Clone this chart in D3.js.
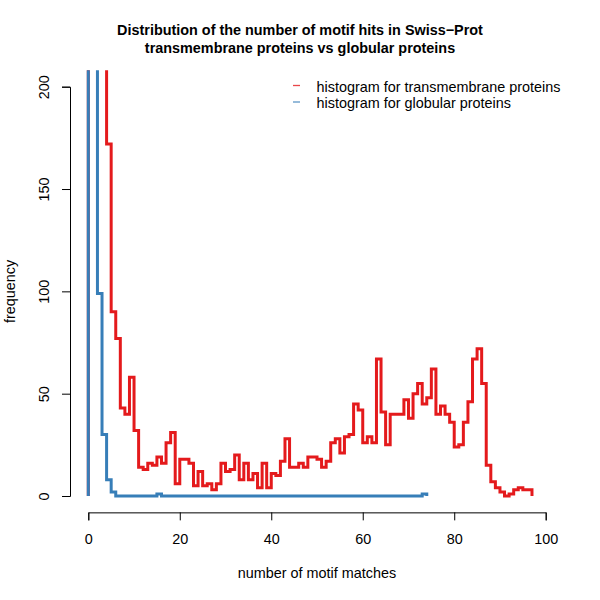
<!DOCTYPE html>
<html><head><meta charset="utf-8">
<script src="https://cdn.jsdelivr.net/npm/d3@7"></script>
<style>body{margin:0;background:#fff}svg{display:block}</style>
</head><body>
<svg id="c" width="600" height="600"></svg>
<script>
// Histogram counts: bin i covers [i, i+1] motif matches
const redCounts = [1500, 900, 600, 350, 172, 90, 77, 43, 40, 58,
  32, 14, 13, 16, 15, 19, 16, 26, 31, 6,
  18, 18, 16, 5, 12, 5, 6, 3, 6, 16,
  12, 13, 20, 8, 16, 8, 11, 4, 16, 4,
  11, 10, 17, 28, 14, 14, 16, 14, 19, 19,
  18, 14, 17, 26, 28, 21, 29, 30, 45, 42,
  26, 29, 26, 67, 41, 25, 40, 40, 40, 47,
  38, 50, 55, 45, 48, 62, 40, 44, 40, 36,
  24, 25, 36, 46, 67, 72, 55, 15, 7, 4,
  2, 0, 1, 3, 4, 3, 3];
const blueCounts = [2500, 700, 99, 30, 8, 2, 0, 0, 0, 0,
  0, 0, 0, 0, 0, 1, 0, 0, 0, 0,
  0, 0, 0, 0, 0, 0, 0, 0, 0, 0,
  0, 0, 0, 0, 0, 0, 0, 0, 0, 0,
  0, 0, 0, 0, 0, 0, 0, 0, 0, 0,
  0, 0, 0, 0, 0, 0, 0, 0, 0, 0,
  0, 0, 0, 0, 0, 0, 0, 0, 0, 0,
  0, 0, 0, 1];
const seriesNames = ["histogram for transmembrane proteins", "histogram for globular proteins"];
const seriesColors = ["#E41A1C", "#377EB8"];
const xTicks = [0, 20, 40, 60, 80, 100];
const yTicks = [0, 50, 100, 150, 200];
const titleLines = ["Distribution of the number of motif hits in Swiss\u2212Prot", "transmembrane proteins vs globular proteins"];
const xLabel = "number of motif matches";
const yLabel = "frequency";

const svg = d3.select("#c");
const font = "'Liberation Sans', Arial, Helvetica, sans-serif";
const fs = 14.4;
const x = d3.scaleLinear().domain([0, 100]).range([88.3, 545.7]);
const y = d3.scaleLinear().domain([0, 200]).range([496, 86.7]);
const plotL = x(-4), plotR = x(104), plotT = y(208), plotB = y(-8);

svg.append("defs").append("clipPath").attr("id", "clip")
  .append("rect").attr("x", plotL).attr("y", plotT).attr("width", plotR - plotL).attr("height", plotB - plotT);

function outline(counts) {
  const pts = [[0, 0]];
  counts.forEach((c, i) => { pts.push([i, c]); pts.push([i + 1, c]); });
  pts.push([counts.length, 0]);
  return pts;
}
const line = d3.line().x(d => x(d[0])).y(d => y(d[1]));
const g = svg.append("g").attr("clip-path", "url(#clip)");
[redCounts, blueCounts].forEach((c, i) => {
  g.append("path").attr("d", line(outline(c))).attr("fill", "none")
    .attr("stroke", seriesColors[i]).attr("stroke-width", 3).attr("stroke-linejoin", "miter");
});

// axes
const xAxis = svg.append("g").attr("transform", `translate(0,${plotB})`)
  .call(d3.axisBottom(x).tickValues(xTicks).tickSize(8));
const yAxis = svg.append("g").attr("transform", `translate(${plotL},0)`)
  .call(d3.axisLeft(y).tickValues(yTicks).tickSize(8));
[xAxis, yAxis].forEach(a => {
  a.select(".domain").attr("stroke", "#000").attr("stroke-width", 1);
  a.selectAll(".tick line").attr("stroke", "#000");
  a.selectAll("text").attr("font-family", font).attr("font-size", fs).attr("fill", "#000");
});
xAxis.selectAll(".tick text").attr("dy", null).attr("y", 544 - plotB);
yAxis.selectAll(".tick text").attr("x", null).attr("dy", null).attr("y", 0)
  .attr("text-anchor", "middle").attr("transform", `translate(${49.3 - plotL},0) rotate(-90)`);

// axis titles
svg.append("text").attr("x", (plotL + plotR) / 2).attr("y", 577.5).attr("text-anchor", "middle")
  .attr("font-family", font).attr("font-size", fs).text(xLabel);
svg.append("text").attr("transform", `translate(15,${(plotT + plotB) / 2}) rotate(-90)`).attr("text-anchor", "middle")
  .attr("font-family", font).attr("font-size", fs).text(yLabel);

// title
titleLines.forEach((t, i) => {
  svg.append("text").attr("x", 300).attr("y", 35 + i * 18).attr("text-anchor", "middle")
    .attr("font-family", font).attr("font-size", 14.4).attr("font-weight", "bold").text(t);
});

// legend
seriesNames.forEach((n, i) => {
  const by = 91.5 + i * 16.5;
  svg.append("line").attr("x1", 293).attr("x2", 300).attr("y1", by - 6).attr("y2", by - 6)
    .attr("stroke", seriesColors[i]).attr("stroke-width", 1.3).attr("opacity", 0.8);
  svg.append("text").attr("x", 316.5).attr("y", by).attr("font-family", font).attr("font-size", fs).text(n);
});
</script>
</body></html>
